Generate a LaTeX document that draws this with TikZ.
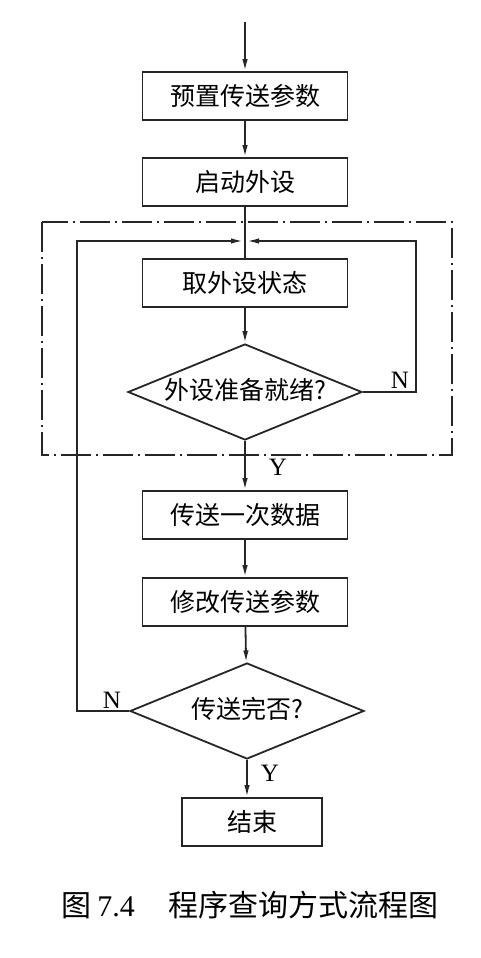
\documentclass[tikz,border=0pt]{standalone}
\usepackage{fontspec}
\setmainfont{Noto Sans CJK SC}
\newfontfamily\latinfont{Liberation Serif}
\usetikzlibrary{shapes.geometric,arrows.meta}
\begin{document}
\begin{tikzpicture}[x=1pt,y=-1pt,
  line width=1.8pt, draw=black!85,
  procbox/.style={draw, rectangle, minimum width=205pt, minimum height=48pt, inner sep=0pt, font=\fontsize{25}{29}\selectfont},
  decbox/.style={draw, diamond, minimum width=234pt, minimum height=96pt, inner sep=0pt, shape aspect=2.4},
  dectext/.style={font=\fontsize{25}{29}\selectfont},
  flow/.style={-{Latex[length=12pt,width=5.5pt]}},
  yn/.style={font=\latinfont\fontsize{25}{29}\selectfont, inner sep=0pt},
  dashdot/.style={line width=1.5pt, dash pattern=on 30pt off 5pt on 2pt off 5pt}
]
\useasboundingbox (0,0) rectangle (480,958);
\fill[white] (0,0) rectangle (480,958);

% dash-dot enclosure
\draw[dashdot] (42,222) rectangle (452,455);

\coordinate (start) at (245,22);
\node[procbox] (b1) at (245,96) {预置传送参数};
\node[procbox] (b2) at (245,182) {启动外设};
\coordinate (J) at (245,241);
\node[procbox] (b3) at (245,283) {取外设状态};
\node[decbox] (d1) at (245,392) {};
\node[dectext] (t1) at (245,390) {外设准备就绪?};
\node[procbox] (b4) at (245,515) {传送一次数据};
\node[procbox] (b5) at (245,602) {修改传送参数};
\node[decbox] (d2) at (247,711) {};
\node[dectext] (t2) at (247,709) {传送完否?};
\node[procbox, minimum width=140pt] (b6) at (252,822) {结束};
\coordinate (r1) at (416,392);
\coordinate (l2) at (77,711);

\draw[flow] (start) -- (b1);
\draw[flow] (b1) -- (b2);
\draw (b2) -- (b3);
\draw[flow] (b3) -- (d1);
\draw[flow] (d1) -- (b4);
\draw[flow] (b4) -- (b5);
\draw[flow] (b5) -- (d2);
\draw[flow] (d2.south) -- (d2.south |- b6.north);
\draw[flow] (d1.east) -- (r1) |- ([xshift=2pt]J);
\draw[flow] (d2.west) -- (l2) |- ([xshift=-2pt]J);

\node[yn] (n1) at (400,380) {N};
\node[yn] (y1) at (278,467) {Y};
\node[yn] (n2) at (112,700) {N};
\node[yn] (y2) at (270,773) {Y};

\node[font=\fontsize{30}{34}\selectfont, inner sep=0pt] (cap) at (250,905)
  {图\hspace{6pt}{\latinfont 7.4}\hspace{34pt}程序查询方式流程图};
\end{tikzpicture}
\end{document}
